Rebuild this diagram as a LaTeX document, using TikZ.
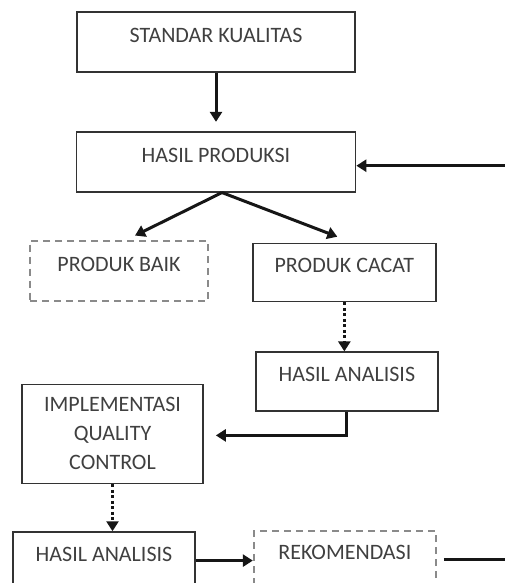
\documentclass[tikz,border=0pt]{standalone}
\usepackage{fontspec}
\setmainfont{Carlito}
\usepackage{tikz}
\usetikzlibrary{arrows.meta,positioning}
\definecolor{ink}{HTML}{161616}
\definecolor{frame}{HTML}{333333}
\definecolor{soft}{HTML}{8A8A8A}
\definecolor{txt}{HTML}{404040}
\tikzset{
  >={Triangle[length=10pt,width=12pt]},
  every node/.style={font=\fontsize{22}{29}\selectfont,text=txt},
  box/.style={draw=frame,line width=1.7pt,inner sep=0pt,text height=30.5pt,text depth=29.5pt,minimum width=182pt},
  optbox/.style={box,draw=soft,line width=2pt,dash pattern=on 7pt off 5pt},
  qcbox/.style={draw=frame,line width=1.7pt,inner sep=0pt,align=center,minimum width=181pt,minimum height=99pt},
  flow/.style={->,line width=3pt,draw=ink},
  check/.style={->,line width=3pt,draw=ink,dash pattern=on 3pt off 2.5pt}
}
\begin{document}
\begin{tikzpicture}[x=1pt,y=-1pt,node distance=47pt and 43pt]
  \useasboundingbox (0,0) rectangle (505,583);
  \node[box,minimum width=278pt] (std) at (216,42) {STANDAR KUALITAS};
  \node[box,minimum width=279pt,below=58pt of std] (hasil) {HASIL PRODUKSI};
  \node[optbox,minimum width=178pt,below=47pt of hasil,xshift=-97pt] (baik) {PRODUK BAIK};
  \node[box,minimum width=183pt,text height=29pt,text depth=29pt,right=43pt of baik,yshift=-2pt] (cacat) {PRODUK CACAT};
  \node[box,text height=29pt,text depth=30pt,below=49pt of cacat,xshift=2.5pt] (ha1) {HASIL ANALISIS};
  \node[qcbox,below=82pt of baik,xshift=-6.5pt] (impl) {IMPLEMENTASI\\QUALITY\\CONTROL};
  \node[box,text height=29pt,text depth=28pt,below=47pt of impl,xshift=-8.5pt] (ha2) {HASIL ANALISIS};
  \node[optbox,minimum width=182pt,text height=28pt,text depth=29pt,right=57pt of ha2,yshift=1pt] (rek) {REKOMENDASI};

  \coordinate (fork) at ([xshift=6pt]hasil.south);
  \coordinate (rail) at (513,360);

  \draw[flow,shorten >=9pt] (std.south) -- (std.south |- hasil.north);
  \draw[flow] (fork) -- ([xshift=16pt,yshift=4pt]baik.north);
  \draw[flow] (fork) -- ([xshift=-7pt,yshift=6pt]cacat.north);
  \draw[check] (cacat.south) -- (cacat.south |- ha1.north);
  \draw[flow] (ha1.south) |- ([xshift=12pt,yshift=-1.5pt]impl.east);
  \draw[check] (impl.south) -- (impl.south |- ha2.north);
  \draw[flow] (ha2.east) -- (ha2.east -| rek.west);
  \draw[flow] ([xshift=7pt]rek.east) -| (rail) |- ([yshift=-4pt]hasil.east);
\end{tikzpicture}
\end{document}
